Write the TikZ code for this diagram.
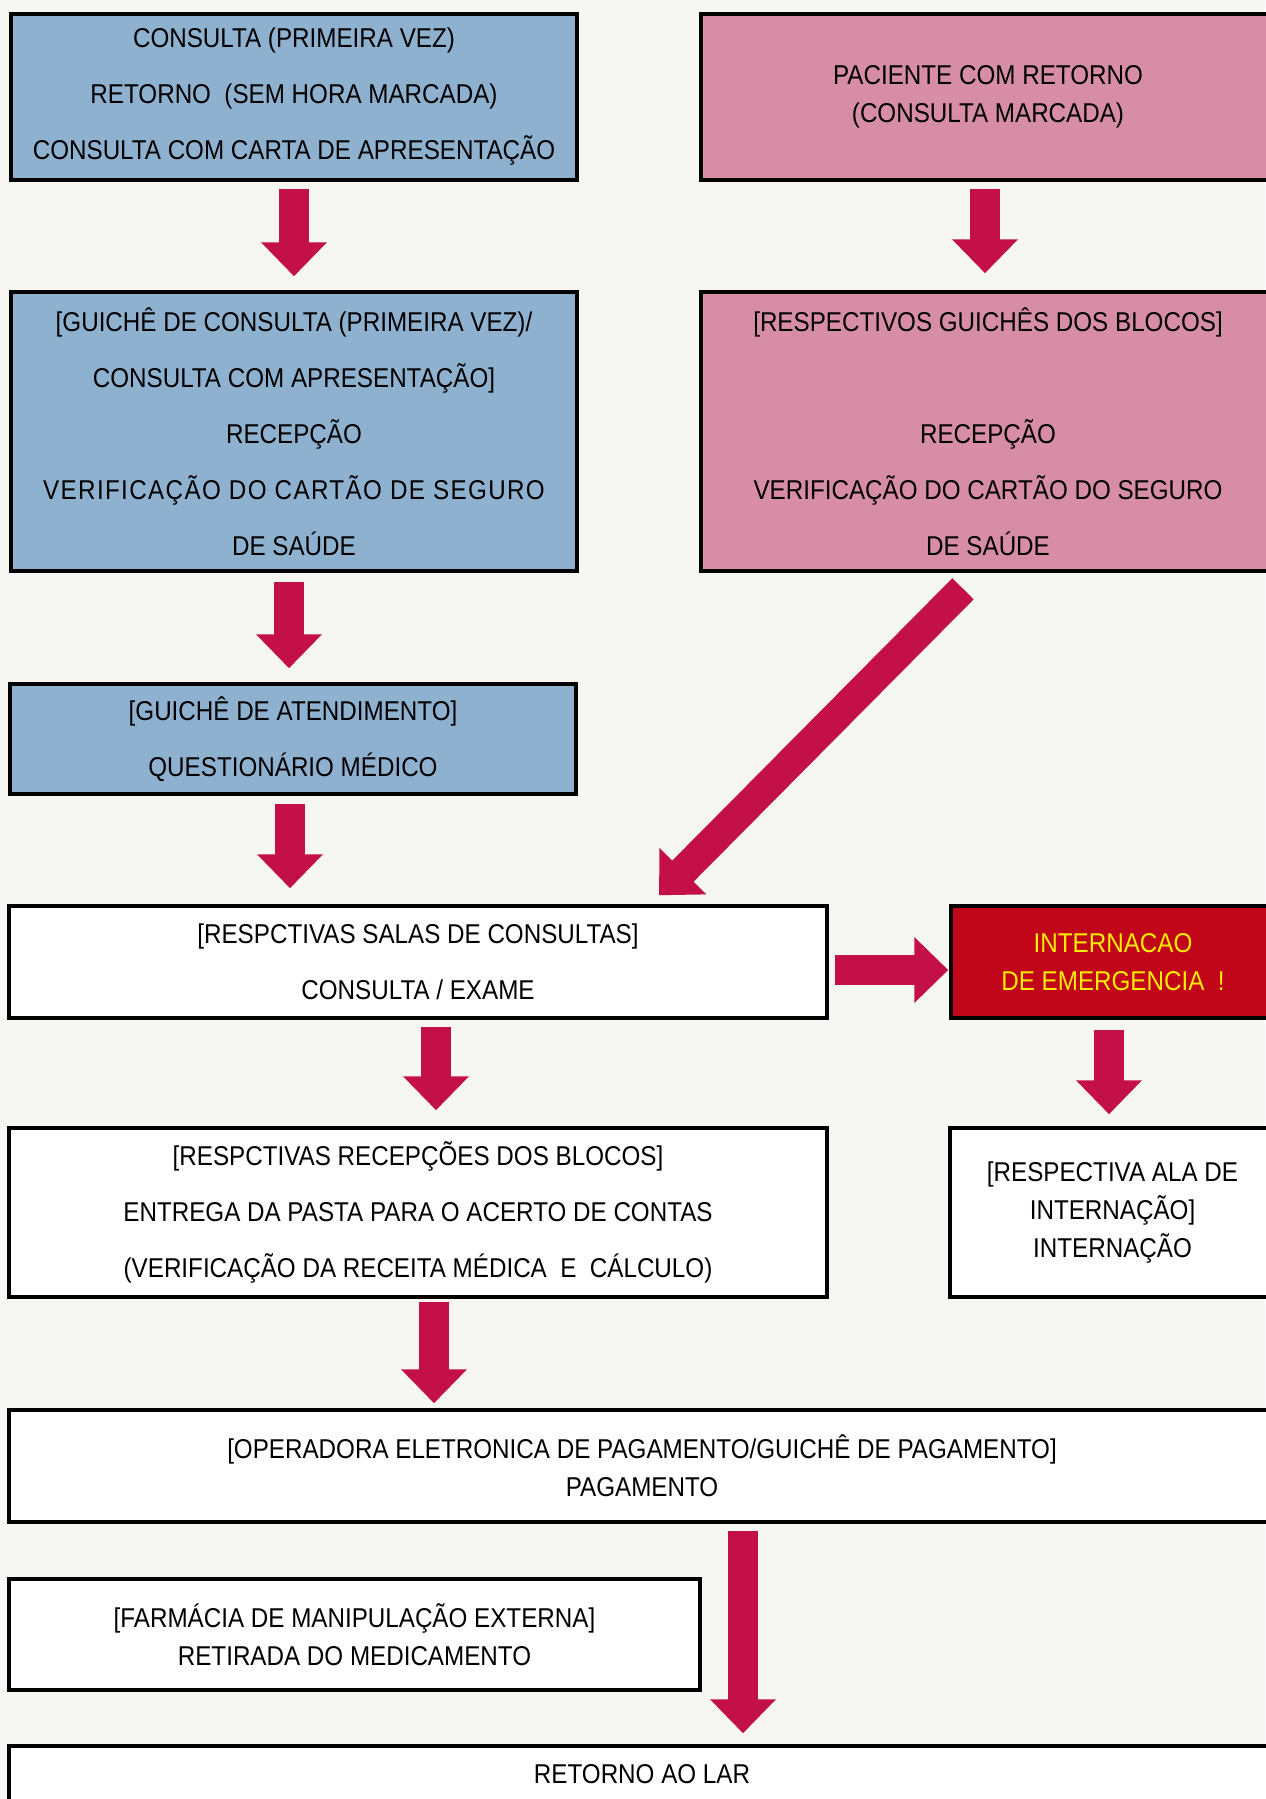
\documentclass[tikz,border=0pt]{standalone}
\usepackage{fontspec}
\setmainfont{Liberation Sans}[FakeStretch=0.89]
\usetikzlibrary{arrows.meta}

\definecolor{paper}{RGB}{246,246,243}
\definecolor{boxblue}{RGB}{143,177,208}
\definecolor{boxpink}{RGB}{214,141,165}
\definecolor{seta}{RGB}{196,16,72}
\definecolor{emred}{RGB}{192,6,24}
\definecolor{emyellow}{RGB}{255,236,0}

\tikzset{
  caixa/.style={draw=black, line width=1.75pt, inner sep=0pt, align=center,
    font=\fontsize{13.6}{28}\selectfont},
  junto/.style={font=\fontsize{13.6}{19}\selectfont},
  seta/.style={draw=seta, line width=15pt, -{Triangle[width=32pt,length=17pt]}}
}

\begin{document}
\begin{tikzpicture}[x=0.5pt,y=-0.5pt]
            % 背景
            \fill[paper] (0,0) rectangle (1265,1799);
            \useasboundingbox (0,0) rectangle (1265,1799);

            % 蓝色方框 (左列)
            \node[caixa, fill=boxblue, minimum width=283pt, minimum height=83pt] (B1) at (294,97)
            {CONSULTA (PRIMEIRA VEZ)\\RETORNO\ \ (SEM HORA MARCADA)\\CONSULTA COM CARTA DE APRESENTAÇÃO};
            \node[caixa, fill=boxblue, minimum width=283pt, minimum height=139.5pt] (B2) at (294,431.5)
            {[GUICHÊ DE CONSULTA (PRIMEIRA VEZ)/\\CONSULTA COM APRESENTAÇÃO]\\RECEPÇÃO\\{\addfontfeature{LetterSpace=5}VERIFICAÇÃO DO CARTÃO DE SEGURO}\\DE SAÚDE};
            \node[caixa, fill=boxblue, minimum width=283pt, minimum height=55pt] (B3) at (293,739)
            {[GUICHÊ DE ATENDIMENTO]\\QUESTIONÁRIO MÉDICO};

            % 粉色方框 (右列)
            \node[caixa, junto, fill=boxpink, minimum width=287pt, minimum height=83pt] (P1) at (988,97)
            {PACIENTE COM RETORNO\\(CONSULTA MARCADA)};
            \node[caixa, fill=boxpink, minimum width=287pt, minimum height=139.5pt] (P2) at (988,431.5)
            {[RESPECTIVOS GUICHÊS DOS BLOCOS]\\[28pt]RECEPÇÃO\\VERIFICAÇÃO DO CARTÃO DO SEGURO\\DE SAÚDE};

            % 白色方框
            \node[caixa, fill=white, minimum width=409pt, minimum height=56pt] (W1) at (418,962)
            {[RESPCTIVAS SALAS DE CONSULTAS]\\CONSULTA / EXAME};
            \node[caixa, junto, fill=emred, text=emyellow, minimum width=162pt, minimum height=56pt] (E) at (1113,962)
            {INTERNACAO\\DE EMERGENCIA\ \ !};
            \node[caixa, fill=white, minimum width=409pt, minimum height=84.5pt] (W2) at (418,1212.5)
            {[RESPCTIVAS RECEPÇÕES DOS BLOCOS]\\ENTREGA DA PASTA PARA O ACERTO DE CONTAS\\(VERIFICAÇÃO DA RECEITA MÉDICA\ \ E\ \ CÁLCULO)};
            \node[caixa, junto, fill=white, minimum width=162.5pt, minimum height=84.5pt] (W3) at (1112.5,1212.5)
            {[RESPECTIVA ALA DE\\INTERNAÇÃO]\\INTERNAÇÃO};
            \node[caixa, junto, fill=white, minimum width=633pt, minimum height=56pt] (W4) at (642,1466)
            {[OPERADORA ELETRONICA DE PAGAMENTO/GUICHÊ DE PAGAMENTO]\\PAGAMENTO};
            \node[caixa, junto, fill=white, minimum width=345.5pt, minimum height=55.5pt] (W5) at (354.5,1634.5)
            {[FARMÁCIA DE MANIPULAÇÃO EXTERNA]\\RETIRADA DO MEDICAMENTO};
            \node[caixa, fill=white, minimum width=633pt, minimum height=28pt] (W6) at (642,1774)
            {RETORNO AO LAR};

            % 箭头
            \draw[seta, shorten <=3.5pt, shorten >=7pt] (B1.south) -- (B2.north);
            \draw[seta, shorten <=3.5pt, shorten >=8.5pt] ([xshift=-1.5pt]P1.south) -- ([xshift=-1.5pt]P2.north);
            \draw[seta, shorten <=4.5pt, shorten >=7pt] ([xshift=-2.5pt]B2.south) -- ([xshift=-2pt]B3.north);
            \draw[seta, shorten <=4pt, shorten >=8pt] ([xshift=-1.5pt]B3.south) -- ([xshift=-1.5pt]B3.south |- W1.north);
            \draw[seta] ([shift={(-25,16)}]P2.south) -- ([shift={(241,-9)}]W1.north);
            \draw[seta, shorten <=3pt, shorten >=0.5pt] ([yshift=-4pt]W1.east) -- ([yshift=-4pt]E.west);
            \draw[seta, shorten <=5pt, shorten >=6pt] ([xshift=-2pt]E.south) -- ([xshift=-2pt]E.south |- W3.north);
            \draw[seta, shorten <=3.5pt, shorten >=8pt] ([xshift=9pt]W1.south) -- ([xshift=9pt]W2.north);
            \draw[seta, shorten <=1.5pt, shorten >=2.5pt] ([xshift=8pt]W2.south) -- ([xshift=8pt]W2.south |- W4.north);
            \draw[seta, shorten <=3.5pt, shorten >=5.5pt] ([xshift=50.5pt]W4.south) -- ([xshift=50.5pt]W6.north);

        \end{tikzpicture}
\end{document}
